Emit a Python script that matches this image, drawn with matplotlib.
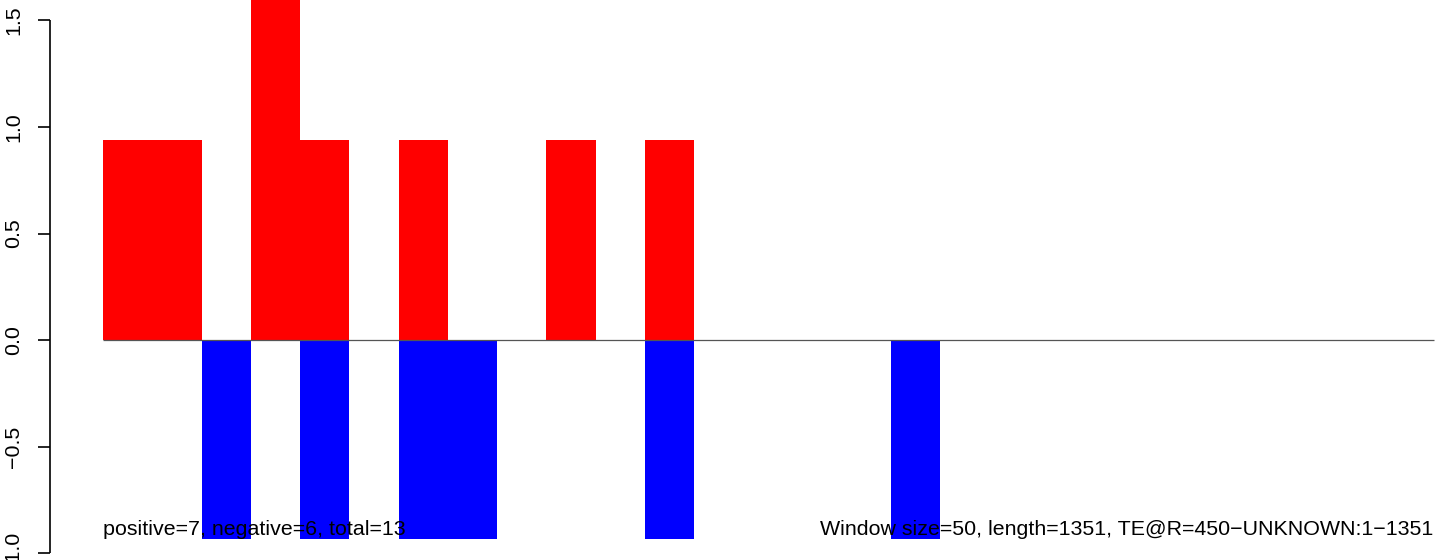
import matplotlib
matplotlib.use("Agg")
import matplotlib.pyplot as plt

plt.rcParams['font.family'] = ['Liberation Sans', 'DejaVu Sans']

window = 50
length = 1351
pos_starts = [0, 50, 150, 200, 300, 450, 550]
pos_values = [0.94, 0.94, 1.88, 0.94, 0.94, 0.94, 0.94]
neg_starts = [100, 200, 300, 350, 550, 800]
neg_values = [-0.935, -0.935, -0.935, -0.935, -0.935, -0.935]
yticks = [-1.0, -0.5, 0.0, 0.5, 1.0, 1.5]
left_text = "positive=7, negative=6, total=13"
right_text = "Window size=50, length=1351, TE@R=450\u2212UNKNOWN:1\u22121351"

W, H = 1444, 560
fig = plt.figure(figsize=(W / 100, H / 100), dpi=100)
ax = fig.add_axes([0, 0, 1, 1])
ax.patch.set_alpha(0)

px_per_unit_x = 49.25 / 50
x0_px = 103
ax.set_xlim(-x0_px / px_per_unit_x, (W - x0_px) / px_per_unit_x)
zero_px = 340
px_per_unit_y = 213
ax.set_ylim(-(H - zero_px) / px_per_unit_y, zero_px / px_per_unit_y)

ax.bar(pos_starts, pos_values, width=window, align='edge', color='#FF0000', linewidth=0)
ax.bar(neg_starts, neg_values, width=window, align='edge', color='#0000FF', linewidth=0)
ax.hlines(0, 0, length, color='#555555', linewidth=0.9)

fs = 15.4
ax.text(0, -0.89, left_text, ha='left', va='center', fontsize=fs, color='black')
ax.text(length, -0.89, right_text, ha='right', va='center', fontsize=fs, color='black')

# y axis like R base graphics
spine_px = 50
spine_x = (spine_px - x0_px) / px_per_unit_x
ax.vlines(spine_x, -1.0, 1.5, color='black', linewidth=1.2)
tick_len = 12 / px_per_unit_x
for t in yticks:
    ax.hlines(t, spine_x - tick_len, spine_x, color='black', linewidth=1.2)
    ax.text((14 - x0_px) / px_per_unit_x, t, f"{t:.1f}".replace('-', '\u2212'),
            rotation=90, ha='center', va='center', fontsize=fs)

ax.axis('off')
fig.savefig("out.png", dpi=100)
